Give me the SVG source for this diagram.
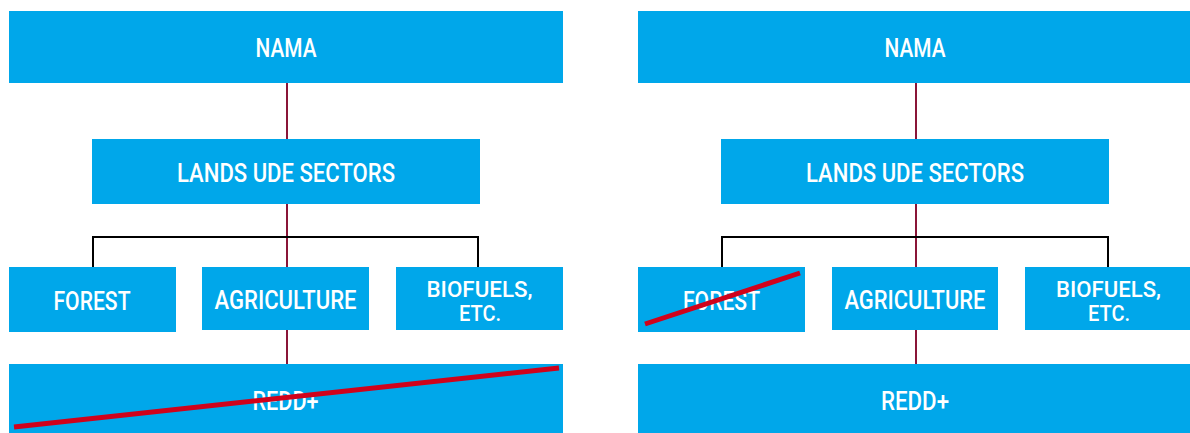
<svg xmlns="http://www.w3.org/2000/svg" width="1190" height="433" viewBox="0 0 1190 433">
<style>
.box{fill:#00A7EA}
.t{fill:#fff;font-family:Roboto,"Liberation Sans",sans-serif;font-size:25px;font-weight:500;text-anchor:middle}
.s{font-size:22px}
.conn{stroke:#8A1538;stroke-width:2;fill:none}
.br{stroke:#000;stroke-width:2;fill:none}
.strike{stroke:#D0021B;stroke-width:5;stroke-linecap:butt}
</style>
<rect width="1190" height="433" fill="#fff"/>
<g id="connectors">
<line class="conn" x1="287" y1="83" x2="287" y2="139"/>
<line class="conn" x1="287" y1="204" x2="287" y2="267"/>
<line class="conn" x1="287" y1="330" x2="287" y2="364"/>
<polyline class="br" points="93,267 93,237 478,237 478,267"/>
<line class="conn" x1="916" y1="83" x2="916" y2="139"/>
<line class="conn" x1="916" y1="204" x2="916" y2="267"/>
<line class="conn" x1="916" y1="330" x2="916" y2="364"/>
<polyline class="br" points="722,267 722,237 1108,237 1108,267"/>
</g>
<g id="left-nama"><rect class="box" x="9" y="11" width="554" height="72"/><text class="t" x="286" y="57" textLength="61" lengthAdjust="spacingAndGlyphs">NAMA</text></g>
<g id="left-landuse"><rect class="box" x="92" y="139" width="388" height="65"/><text class="t" x="286" y="182" textLength="218" lengthAdjust="spacingAndGlyphs">LANDS UDE SECTORS</text></g>
<g id="left-forest"><rect class="box" x="9" y="267" width="167" height="65"/><text class="t" x="92" y="310" textLength="77" lengthAdjust="spacingAndGlyphs">FOREST</text></g>
<g id="left-agriculture"><rect class="box" x="202" y="267" width="167" height="63"/><text class="t" x="285.5" y="309" textLength="142" lengthAdjust="spacingAndGlyphs">AGRICULTURE</text></g>
<g id="left-biofuels"><rect class="box" x="396" y="267" width="167" height="63"/><text class="t s" x="479.5" y="297" textLength="106" lengthAdjust="spacingAndGlyphs">BIOFUELS,</text><text class="t s" x="480" y="321" textLength="42" lengthAdjust="spacingAndGlyphs">ETC.</text></g>
<g id="left-redd"><rect class="box" x="9" y="364" width="554" height="69"/><text class="t" x="285.5" y="410" textLength="66" lengthAdjust="spacingAndGlyphs">REDD+</text><line class="strike" x1="14" y1="427" x2="559" y2="368"/></g>
<g id="right-nama"><rect class="box" x="638" y="11" width="552" height="72"/><text class="t" x="915" y="57" textLength="61" lengthAdjust="spacingAndGlyphs">NAMA</text></g>
<g id="right-landuse"><rect class="box" x="721" y="139" width="388" height="65"/><text class="t" x="915" y="182" textLength="218" lengthAdjust="spacingAndGlyphs">LANDS UDE SECTORS</text></g>
<g id="right-forest"><rect class="box" x="638" y="267" width="167" height="65"/><text class="t" x="721.5" y="310" textLength="77" lengthAdjust="spacingAndGlyphs">FOREST</text><line class="strike" x1="645" y1="324" x2="800" y2="273"/></g>
<g id="right-agriculture"><rect class="box" x="832" y="267" width="166" height="63"/><text class="t" x="915" y="309" textLength="141" lengthAdjust="spacingAndGlyphs">AGRICULTURE</text></g>
<g id="right-biofuels"><rect class="box" x="1025" y="267" width="165" height="63"/><text class="t s" x="1108.5" y="297" textLength="105" lengthAdjust="spacingAndGlyphs">BIOFUELS,</text><text class="t s" x="1109" y="321" textLength="42" lengthAdjust="spacingAndGlyphs">ETC.</text></g>
<g id="right-redd"><rect class="box" x="638" y="364" width="552" height="69"/><text class="t" x="915" y="410" textLength="68" lengthAdjust="spacingAndGlyphs">REDD+</text></g>
</svg>
